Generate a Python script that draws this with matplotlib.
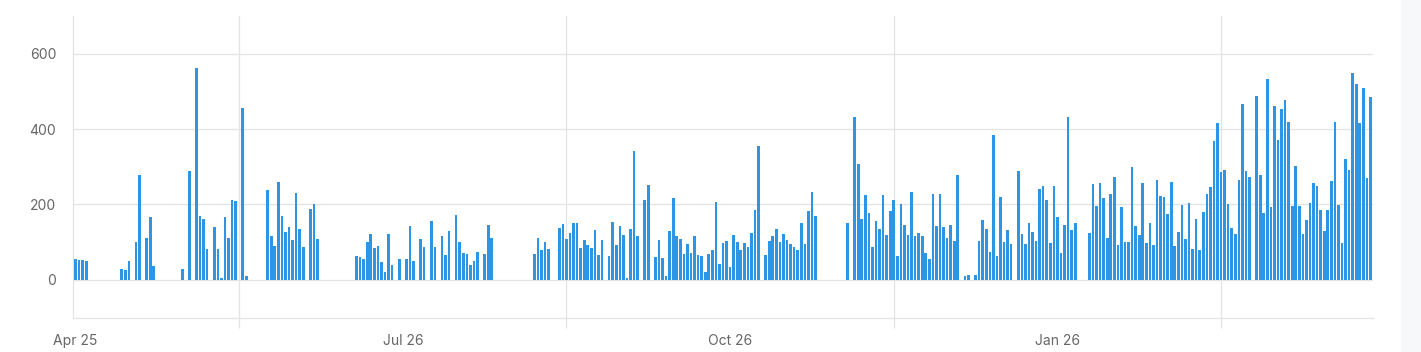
import numpy as np
import pandas as pd
import matplotlib
matplotlib.use("Agg")
import matplotlib.pyplot as plt
import matplotlib.dates as mdates
from matplotlib.patches import Rectangle

plt.rcParams['font.family'] = ['Inter', 'DejaVu Sans']

N = None
# daily values starting 2025-04-25 (None = no bar)
values_q1 = [56, 52, 52, 50, N, N, N, N, N, N, N, N, N, 30, 26, 49, N, 100, 279, N,
             111, 166, 37, N, N, N, N, N, N, N, 28, N, 288, N, 562, 169, 161, 82, N, 141,
             82, 6, 166, 111, 213, 209, N, 457, 10, N, N, N, N, N, 237, 115, 91, 259, 170, 126,
             139, 106, 231, 135, 86, N, 187, 200, 107, N, N, N, N, N, N, N, N, N, N, 63,
             61, 56, 100, 121, 84, 91, 47, 20, 121, 40, N, 55]
values_q2 = [N, 55, 143, 51, N, 108, 88, N, 156, 87, N, 116, 66, 130, N, 172, 100, 71, 69, 40,
             50, 73, N, 68, 146, 111, N, N, N, N, N, N, N, N, N, N, N, 69, 111, 79,
             100, 81, N, N, 137, 149, 108, 124, 152, 152, 84, 106, 92, 84, 132, 66, 106, N, 63, 153,
             92, 143, 118, 4, 135, 341, 116, N, 213, 251, N, 60, 106, 58, 10, 130, 217, 116, 108, 69,
             95, 71, 116, 66, 62, 22, 69, 79, 206, 41, 98, 104]
values_q3 = [33, 119, 100, 78, 97, 86, 124, 186, 354, N, 67, 104, 116, 135, 100, 122, 105, 94, 87, 79,
             151, 95, 182, 232, 170, N, N, N, N, N, N, N, N, 151, N, 431, 306, 161, 226, 176,
             86, 155, 134, 225, 118, 183, 213, 64, 202, 145, 119, 233, 115, 124, 116, 70, 55, 227, 142, 229,
             140, 111, 145, 103, 278, N, 11, 12, N, 14, 102, 158, 134, 74, 385, 63, 219, 100, 131, 94,
             N, 288, 122, 94, 151, 126, 102, 240, 250, 213, 97, 250]
values_q4 = [166, 72, 145, 433, 133, 152, N, N, N, 123, 253, 196, 257, 217, 112, 229, 272, 93, 192, 100,
             100, 300, 143, 119, 256, 98, 151, 93, 266, 223, 219, 174, 260, 89, 126, 198, 107, 205, 81, 161,
             78, 179, 229, 246, 368, 416, 286, 291, 201, 137, 122, 266, 466, 289, 273, N, 488, 279, 178, 534,
             192, 462, 372, 452, 478, 419, 195, 303, 196, 122, 159, 203, 258, 250, 184, 129, 185, 261, 420, 198,
             97, 321, 291, 548, 520, 416, 508, 271, 485]

values = values_q1 + values_q2 + values_q3 + values_q4
dates = pd.date_range('2025-04-25', periods=len(values), freq='D')

label_dates = ['2025-04-25', '2025-07-26', '2025-10-26', '2026-01-26']
label_texts = ['Apr 25', 'Jul 26', 'Oct 26', 'Jan 26']
grid_dates = ['2025-06-10', '2025-09-10', '2025-12-11', '2026-03-13']
y_ticks = [0, 200, 400, 600]

vals = np.array([np.nan if v is None else v for v in values], dtype=float)
mask = ~np.isnan(vals)

fig = plt.figure(figsize=(14.21, 3.52), dpi=100)
fig.patches.append(Rectangle((1401 / 1421, 0), 20 / 1421, 1, transform=fig.transFigure,
                             facecolor='#f7f8fa', edgecolor='none', zorder=-1))
ax = fig.add_axes([73 / 1421, 1 - 317.5 / 352, 1300 / 1421, (317.5 - 16) / 352])

ax.bar(dates[mask], vals[mask], width=0.74, color='#2d95e3', edgecolor='none', zorder=3)

ax.set_ylim(-100, 700)
ax.set_xlim(dates[0] - pd.Timedelta(hours=17), dates[-1] + pd.Timedelta(hours=17))

ax.set_yticks(y_ticks)
ax.set_yticklabels([str(v) for v in y_ticks])
ax.tick_params(axis='y', length=0, pad=12, labelsize=10, labelcolor='#666666')
ax.grid(axis='y', color='#e3e3e3', linewidth=0.9, zorder=0)

gd = [mdates.date2num(pd.Timestamp(d)) for d in grid_dates]
ld = [mdates.date2num(pd.Timestamp(d)) for d in label_dates]
ax.set_xticks(gd)
ax.set_xticklabels([''] * len(gd))
ax.tick_params(axis='x', which='major', length=7.5, color='#e3e3e3', width=0.9)
ax.set_xticks(ld, minor=True)
ax.set_xticklabels(label_texts, minor=True)
ax.tick_params(axis='x', which='minor', length=0, pad=12, labelsize=10, labelcolor='#666666')
ax.grid(axis='x', which='major', color='#e3e3e3', linewidth=0.9, zorder=0)

for s in ['top', 'right']:
    ax.spines[s].set_visible(False)
for s in ['left', 'bottom']:
    ax.spines[s].set_color('#e3e3e3')
    ax.spines[s].set_linewidth(0.9)

fig.savefig('out.png', dpi=100, facecolor='white')
